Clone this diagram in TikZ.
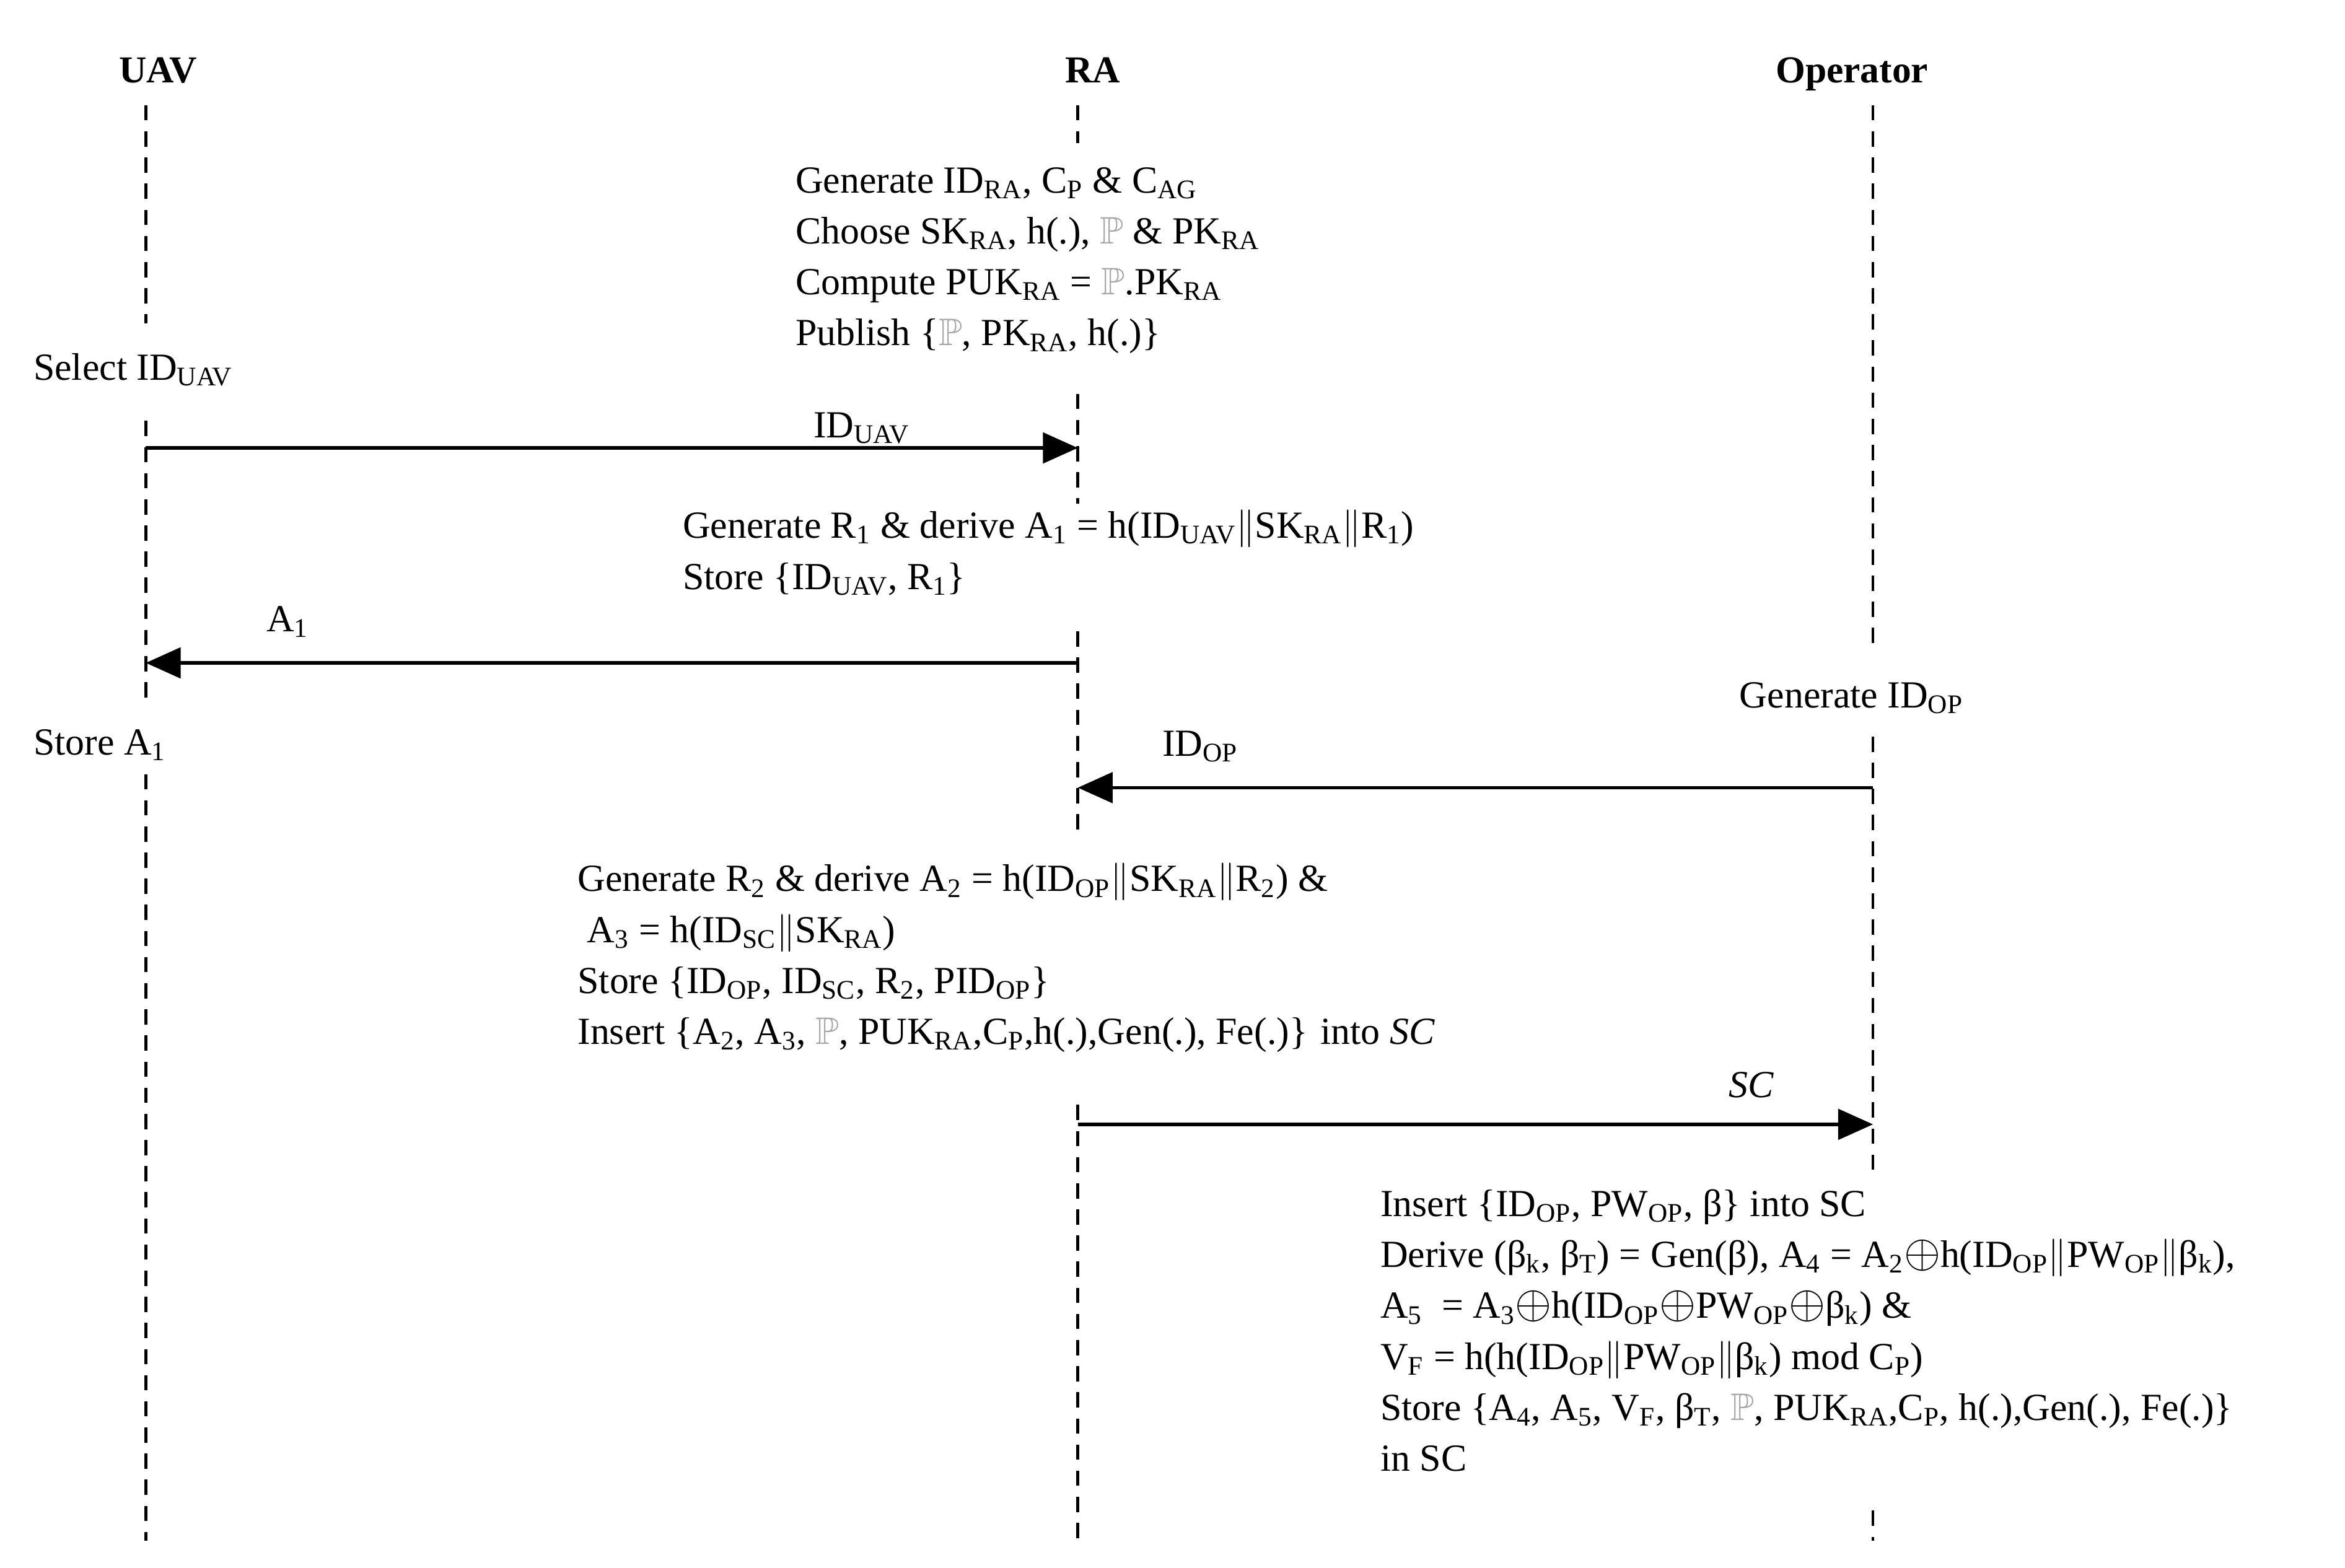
\documentclass[tikz,border=0pt]{standalone}
\usepackage{amssymb}
\usepackage{graphicx}
\usepackage{fontspec}
\setmainfont{Liberation Serif}
\usetikzlibrary{arrows.meta}
\newcommand{\sbs}[1]{\textsubscript{#1}}
\newcommand{\PP}{\textcolor{gray!70}{$\mathbb{P}$}}
\newcommand{\xo}{\scalebox{1.25}{$\oplus$}}
\begin{document}
\begin{tikzpicture}[x=0.02426cm,y=-0.02426cm,
  life/.style={dashed,line width=1.3pt,dash pattern=on 7pt off 5pt},
  msg/.style={line width=1.5pt,-{Triangle[length=16pt,width=14pt]}},
  head/.style={font=\fontsize{17.5}{20}\selectfont\bfseries,anchor=base},
  txt/.style={anchor=north west,inner sep=0pt,align=left,font=\fontsize{17.6}{23.4}\selectfont},
  lab/.style={anchor=base west,inner sep=0pt,font=\fontsize{17.6}{20}\selectfont}]
\useasboundingbox (0,0) rectangle (1560,1043);
\node[head] (uav) at (105,55) {UAV};
\node[head] (ra) at (727,55) {RA};
\node[head] (op) at (1232,55) {Operator};
% lifelines
\draw[life] (97,70) -- (97,215);
\draw[life] (97,280) -- (97,465);
\draw[life] (97,515) -- (97,1025);
\draw[life] (717,70) -- (717,95);
\draw[life] (717,262) -- (717,335);
\draw[life] (717,420) -- (717,555);
\draw[life] (717,735) -- (717,1025);
\draw[life] (1246,70) -- (1246,432);
\draw[life] (1246,490) -- (1246,778);
\draw[life] (1246,1005) -- (1246,1025);
% coordinates
\coordinate (u1) at (97,298); \coordinate (r1) at (717,298);
\coordinate (r2) at (717,441); \coordinate (u2) at (97,441);
\coordinate (o3) at (1246,524); \coordinate (r3) at (717,524);
\coordinate (r4) at (717,748); \coordinate (o4) at (1246,748);
\draw[msg] (u1) -- (r1);
\draw[msg] (r2) -- (u2);
\draw[msg] (o3) -- (r3);
\draw[msg] (r4) -- (o4);
\node[lab] (l1) at (541,291) {ID\sbs{UAV}};
\node[lab] (l2) at (177,420) {A\sbs{1}};
\node[lab] (l3) at (773,503) {ID\sbs{OP}};
\node[lab,font=\fontsize{17.6}{20}\selectfont\itshape] (l4) at (1150,730) {SC};
% texts
\node[txt] (b1) at (529,111) {Generate ID\sbs{RA}, C\sbs{P} \& C\sbs{AG}\\
Choose SK\sbs{RA}, h(.), \PP{} \& PK\sbs{RA}\\
Compute PUK\sbs{RA} = \PP.PK\sbs{RA}\\
Publish \{\PP, PK\sbs{RA}, h(.)\}};
\node[lab] (s1) at (22,253) {Select ID\sbs{UAV}};
\node[txt] (b2) at (454,339) {Generate R\sbs{1} \& derive A\sbs{1} = h(ID\sbs{UAV}$\|$SK\sbs{RA}$\|$R\sbs{1})\\
Store \{ID\sbs{UAV}, R\sbs{1}\}};
\node[lab] (g1) at (1157,471) {Generate ID\sbs{OP}};
\node[lab] (s2) at (22,502) {Store A\sbs{1}};
\node[txt] (b3) at (384,574) {Generate R\sbs{2} \& derive A\sbs{2} = h(ID\sbs{OP}$\|$SK\sbs{RA}$\|$R\sbs{2}) \&\\
\ A\sbs{3} = h(ID\sbs{SC}$\|$SK\sbs{RA})\\
Store \{ID\sbs{OP}, ID\sbs{SC}, R\sbs{2}, PID\sbs{OP}\}\\
Insert \{A\sbs{2}, A\sbs{3}, \PP, PUK\sbs{RA},C\sbs{P},h(.),Gen(.), Fe(.)\} into \textit{SC}};
\node[txt] (b4) at (918,791) {Insert \{ID\sbs{OP}, PW\sbs{OP}, β\} into SC\\
Derive (β\sbs{k}, β\sbs{T}) = Gen(β), A\sbs{4} = A\sbs{2}\xo h(ID\sbs{OP}$\|$PW\sbs{OP}$\|$β\sbs{k}),\\
A\sbs{5} \ = A\sbs{3}\xo h(ID\sbs{OP}\xo PW\sbs{OP}\xo β\sbs{k}) \&\\
V\sbs{F} = h(h(ID\sbs{OP}$\|$PW\sbs{OP}$\|$β\sbs{k}) mod C\sbs{P})\\
Store \{A\sbs{4}, A\sbs{5}, V\sbs{F}, β\sbs{T}, \PP, PUK\sbs{RA},C\sbs{P}, h(.),Gen(.), Fe(.)\}\\
in SC};
\end{tikzpicture}
\end{document}
